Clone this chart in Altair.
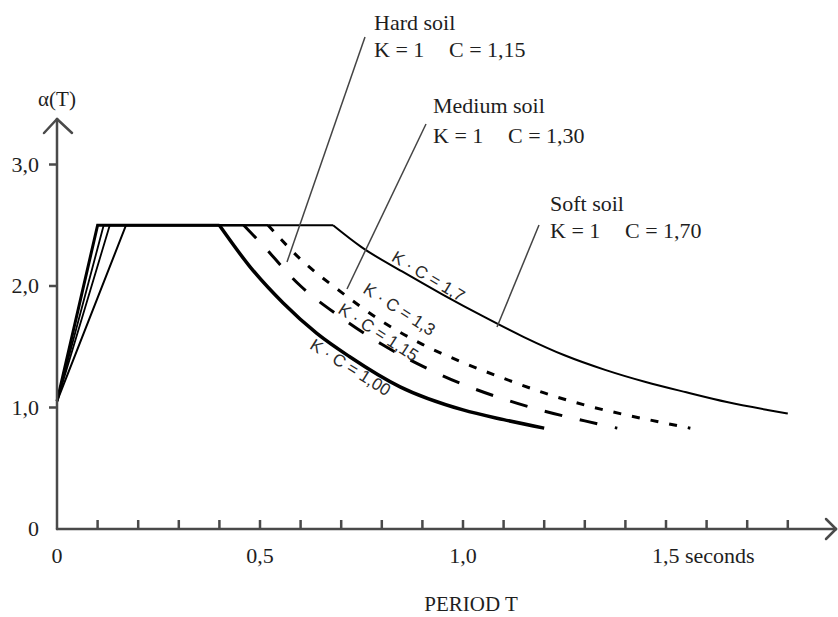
import altair as alt
import pandas as pd

# ---------------- data ----------------
series_names = ["1,00", "1,15", "1,3", "1,7"]

# rising branch + plateau (T, alpha)
rise_T = {
    "1,00": [0.0, 0.10, 0.40],
    "1,15": [0.0, 0.115, 0.46],
    "1,3": [0.0, 0.13, 0.52],
    "1,7": [0.0, 0.17, 0.68],
}
rise_A = {
    "1,00": [1.05, 2.5, 2.5],
    "1,15": [1.05, 2.5, 2.5],
    "1,3": [1.05, 2.5, 2.5],
    "1,7": [1.05, 2.5, 2.5],
}

# descending branches
dec_T_100 = [0.40, 0.475, 0.557, 0.64, 0.72, 0.845, 1.0, 1.1, 1.2]
dec_A_100 = [2.5, 2.16, 1.86, 1.61, 1.42, 1.17, 0.98, 0.90, 0.83]

dec_T_115 = [0.46, 0.5, 0.6, 0.7, 0.8, 0.9, 1.0, 1.1, 1.2, 1.3, 1.38]
dec_A_115 = [2.5, 2.36, 2.0, 1.74, 1.52, 1.34, 1.19, 1.07, 0.97, 0.89, 0.83]

dec_T_130 = [0.52, 0.6, 0.7, 0.8, 0.9, 1.0, 1.1, 1.2, 1.3, 1.4, 1.5, 1.56]
dec_A_130 = [2.5, 2.22, 1.95, 1.71, 1.52, 1.37, 1.24, 1.12, 1.02, 0.94, 0.87, 0.83]

dec_T_170 = [0.68, 0.75, 0.85, 0.95, 1.05, 1.15, 1.25, 1.35, 1.45, 1.55, 1.65, 1.75, 1.80]
dec_A_170 = [2.5, 2.32, 2.12, 1.93, 1.75, 1.58, 1.43, 1.31, 1.21, 1.125, 1.045, 0.98, 0.95]

x_ticks = [0.1 * i for i in range(1, 19)]
x_tick_labels = ["0", "0,5", "1,0", "1,5 seconds"]
x_tick_label_vals = [0.0, 0.5, 1.0, 1.5]
y_ticks = [1.0, 2.0, 3.0]
y_tick_labels = ["0", "1,0", "2,0", "3,0"]
y_tick_label_vals = [0.0, 1.0, 2.0, 3.0]

# ---------------- pixel <-> data helpers (layout only) ----------------
X0, XS = 57.0, 406.0
Y0, YS = 529.0, 121.5
W, H = 838, 617


def tx(px):
    return (px - X0) / XS


def ay(py):
    return (Y0 - py) / YS


xs = alt.Scale(domain=[tx(0), tx(W)], nice=False, zero=False)
ys = alt.Scale(domain=[ay(H), ay(0)], nice=False, zero=False)

SERIF = "Liberation Serif"
SANS = "Liberation Sans"
AX_COL = "#4a4a4a"
TXT_COL = "#1e1e1e"
FS = 22


def xenc(f="x"):
    return alt.X(f, type="quantitative", scale=xs, axis=None)


def yenc(f="y"):
    return alt.Y(f, type="quantitative", scale=ys, axis=None)


def line_layer(T, A, width, dash=None, interp="linear", offset=None):
    df = pd.DataFrame({"x": T, "y": A, "i": list(range(len(T)))})
    kw = dict(color="black", strokeWidth=width, interpolate=interp, strokeCap="butt")
    if dash:
        kw["strokeDash"] = dash
    if offset is not None:
        kw["strokeDashOffset"] = offset
    return alt.Chart(df).mark_line(**kw).encode(x=xenc(), y=yenc(), order="i:Q")


layers = []

# rising branches (solid)
rise_width = {"1,00": 3.0, "1,15": 1.8, "1,3": 1.8, "1,7": 2.0}
for s in ["1,7", "1,3", "1,15", "1,00"]:
    layers.append(line_layer(rise_T[s], rise_A[s], rise_width[s]))

# descending branches
layers.append(line_layer(dec_T_170, dec_A_170, 2.0, interp="monotone"))
layers.append(line_layer(dec_T_130, dec_A_130, 3.0, dash=[8, 11], interp="monotone"))
layers.append(line_layer(dec_T_115, dec_A_115, 3.0, dash=[18, 18], interp="monotone"))
layers.append(line_layer(dec_T_100, dec_A_100, 3.5, interp="monotone"))

# ---------------- axes (drawn as arrows) ----------------
seg = pd.DataFrame({
    "x": [0.0, 0.0, tx(826), tx(826), tx(44), tx(72)],
    "y": [0.0, 0.0, ay(519), ay(539), ay(133), ay(133)],
    "x2": [tx(836), 0.0, tx(836), tx(836), 0.0, 0.0],
    "y2": [0.0, ay(119), 0.0, 0.0, ay(119), ay(119)],
})
layers.append(
    alt.Chart(seg).mark_rule(color=AX_COL, strokeWidth=2.5, strokeCap="round").encode(
        x=xenc(), y=yenc(), x2="x2:Q", y2="y2:Q")
)

xt = pd.DataFrame({"x": x_ticks, "y": [0.0] * len(x_ticks), "y2": [ay(520)] * len(x_ticks)})
layers.append(
    alt.Chart(xt).mark_rule(color=AX_COL, strokeWidth=2.5).encode(x=xenc(), y=yenc(), y2="y2:Q")
)
yt = pd.DataFrame({"y": y_ticks, "x": [tx(49)] * len(y_ticks), "x2": [0.0] * len(y_ticks)})
layers.append(
    alt.Chart(yt).mark_rule(color=AX_COL, strokeWidth=2.5).encode(x=xenc(), y=yenc(), x2="x2:Q")
)

# tick labels
xl = pd.DataFrame({"x": x_tick_label_vals[:3], "t": x_tick_labels[:3], "y": [ay(556)] * 3})
layers.append(
    alt.Chart(xl).mark_text(font=SERIF, fontSize=FS, color=TXT_COL, baseline="middle",
                            align="center").encode(x=xenc(), y=yenc(), text="t:N")
)
xl2 = pd.DataFrame({"x": [x_tick_label_vals[3] - 14 / XS], "t": [x_tick_labels[3]], "y": [ay(556)]})
layers.append(
    alt.Chart(xl2).mark_text(font=SERIF, fontSize=FS, color=TXT_COL, baseline="middle",
                             align="left").encode(x=xenc(), y=yenc(), text="t:N")
)
yl = pd.DataFrame({"y": y_tick_label_vals, "t": y_tick_labels, "x": [tx(39)] * 4})
layers.append(
    alt.Chart(yl).mark_text(font=SERIF, fontSize=FS, color=TXT_COL, baseline="middle",
                            align="right").encode(x=xenc(), y=yenc(), text="t:N")
)

# axis titles
titles = pd.DataFrame({
    "x": [tx(57), tx(471)],
    "y": [ay(106), ay(611)],
    "t": ["\u03b1(T)", "PERIOD T"],
})
layers.append(
    alt.Chart(titles).mark_text(font=SERIF, fontSize=21, color=TXT_COL, baseline="alphabetic",
                                align="center").encode(x=xenc(), y=yenc(), text="t:N")
)

# ---------------- soil annotations ----------------
ann_lines = pd.DataFrame({
    "x": [tx(365), tx(426), tx(539)],
    "y": [ay(37), ay(124), ay(225)],
    "x2": [tx(287), tx(347), tx(497)],
    "y2": [ay(262), ay(289), ay(327)],
})
layers.append(
    alt.Chart(ann_lines).mark_rule(color="#444", strokeWidth=1.5).encode(
        x=xenc(), y=yenc(), x2="x2:Q", y2="y2:Q")
)

soil_text = pd.DataFrame({
    "x": [tx(374), tx(374), tx(449), tx(433), tx(433), tx(508), tx(550), tx(550), tx(625)],
    "y": [ay(30), ay(57), ay(57), ay(113), ay(143), ay(143), ay(211), ay(238), ay(238)],
    "t": ["Hard soil", "K = 1", "C = 1,15",
          "Medium soil", "K = 1", "C = 1,30",
          "Soft soil", "K = 1", "C = 1,70"],
})
layers.append(
    alt.Chart(soil_text).mark_text(font=SERIF, fontSize=FS, color=TXT_COL, baseline="alphabetic",
                                   align="left").encode(x=xenc(), y=yenc(), text="t:N")
)

# rotated curve labels
curve_labels = [
    ("K \u00b7 C = 1,7", 428, 277, 31),
    ("K \u00b7 C = 1,3", 399, 310, 33),
    ("K \u00b7 C = 1,15", 378, 333, 33),
    ("K \u00b7 C = 1,00", 350, 368, 32),
]
for t, px, py, ang in curve_labels:
    d = pd.DataFrame({"x": [tx(px)], "y": [ay(py)], "t": [t]})
    layers.append(
        alt.Chart(d).mark_text(font=SANS, fontSize=17, color="#2a2a2a", angle=ang,
                               baseline="middle", align="center").encode(
            x=xenc(), y=yenc(), text="t:N")
    )

chart = alt.layer(*layers).properties(
    width=W, height=H,
    autosize=alt.AutoSizeParams(type="none"),
    padding=0,
    background="white",
).configure_view(stroke=None)

chart.save("out.html", embed_options={"renderer": "svg", "actions": False})
